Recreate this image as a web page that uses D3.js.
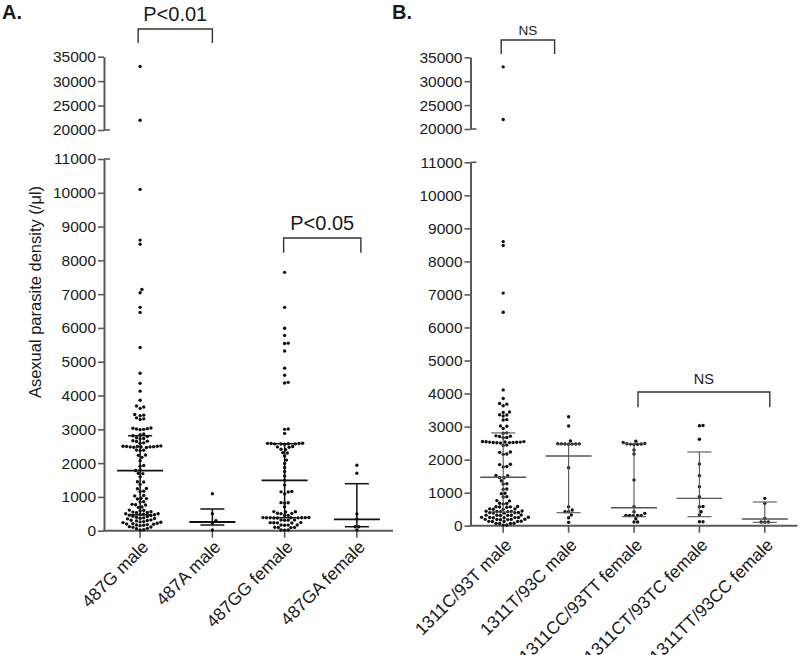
<!DOCTYPE html>
<html>
<head>
<meta charset="utf-8">
<script src="https://cdn.jsdelivr.net/npm/d3@7"></script>
<style>
  body { margin: 0; background: #fff; }
  text { font-family: "Liberation Sans", Arial, sans-serif; fill: #1a1a1a; }
</style>
</head>
<body>
<svg id="chart" width="800" height="655"></svg>
<script>
// categories
var catsA = ["487G male", "487A male", "487GG female", "487GA female"];
var catsB = ["1311C/93T male", "1311T/93C male", "1311CC/93TT female", "1311CT/93TC female", "1311TT/93CC female"];

// tick labels
var ticksLow = [0, 1000, 2000, 3000, 4000, 5000, 6000, 7000, 8000, 9000, 10000, 11000];
var ticksHigh = [20000, 25000, 30000, 35000];

// parasite densities
var g487G_male = [33000, 22000, 10100, 8600, 8480, 7140, 7040, 6610, 6460, 5420, 4660, 4360, 4130, 3860, 3690, 3660, 3620, 3440, 3420, 3400, 3340, 3310, 3290, 3040, 3030, 3020, 3010, 3000, 2990, 2860, 2840, 2810, 2790, 2750, 2730, 2720, 2660, 2650, 2640, 2600, 2590, 2510, 2500, 2500, 2495, 2490, 2485, 2480, 2480, 2475, 2470, 2460, 2390, 2380, 2370, 2240, 2230, 2170, 2070, 1930, 1910, 1800, 1780, 1700, 1690, 1600, 1450, 1440, 1370, 1250, 1240, 1170, 1160, 1040, 1030, 960, 950, 940, 860, 850, 780, 770, 760, 700, 690, 610, 600, 590, 560, 550, 540, 530, 500, 500, 490, 480, 470, 460, 450, 430, 420, 400, 380, 370, 360, 350, 320, 310, 300, 290, 270, 260, 250, 240, 220, 210, 200, 190, 180, 170, 160, 150, 120, 110, 100, 70, 60, 30, 20];
var g487A_male = [1095, 503, 296, 237, 20];
var g487GG_female = [7645, 6610, 5990, 5780, 5550, 5540, 5320, 4810, 4600, 4390, 4370, 3010, 3000, 2880, 2590, 2585, 2580, 2580, 2575, 2570, 2570, 2565, 2560, 2490, 2480, 2470, 2410, 2400, 2310, 2300, 2210, 2090, 1990, 1870, 1750, 1620, 1490, 1350, 1160, 1150, 1145, 1085, 830, 825, 820, 710, 565, 560, 555, 515, 510, 505, 455, 450, 390, 388, 386, 385, 384, 383, 382, 380, 378, 376, 320, 315, 312, 310, 240, 238, 235, 232, 230, 170, 168, 165, 160, 100, 98, 95, 92, 22, 20, 18];
var g487GA_female = [1935, 1698, 494, 346, 118, 115, 20];

var g1311C_93T_male = [33000, 22000, 8600, 8480, 7040, 6460, 4110, 3850, 3700, 3680, 3630, 3440, 3430, 3360, 3350, 3320, 3210, 3200, 3020, 3010, 2940, 2810, 2800, 2720, 2710, 2700, 2670, 2660, 2550, 2545, 2540, 2535, 2530, 2530, 2525, 2520, 2520, 2515, 2510, 2505, 2440, 2430, 2230, 2220, 2170, 2160, 1860, 1850, 1790, 1780, 1520, 1510, 1460, 1450, 1360, 1270, 1260, 1110, 1100, 980, 970, 880, 870, 760, 750, 680, 670, 660, 580, 575, 570, 565, 560, 510, 505, 500, 495, 445, 440, 435, 430, 425, 420, 400, 395, 390, 385, 380, 325, 320, 318, 315, 312, 310, 255, 252, 250, 248, 245, 242, 240, 195, 192, 190, 188, 185, 182, 135, 132, 130, 128, 125, 72, 70, 68, 65, 22, 18];
var g1311T_93C_male = [3300, 3020, 2565, 2480, 2478, 2476, 2474, 2472, 2470, 2468, 1757, 576, 475, 424, 420, 323, 242, 101];
var g1311CC_93TT_female = [2560, 2520, 2490, 2480, 2475, 2470, 2465, 2460, 2290, 2170, 1384, 576, 424, 374, 313, 312, 310, 308, 306, 212, 111, 110];
var g1311CT_93TC_female = [3035, 3025, 2616, 1868, 1515, 1182, 879, 580, 572, 424, 323, 121, 118];
var g1311TT_93CC_female = [828, 677, 222, 111, 110, 108];

// median and interquartile range
var medA = [1775, 257, 1491, 337];
var q1A = [470, 168, 385, 118];
var q3A = [2811, 642, 2574, 1391];
var medB = [1467, 2111, 545, 828, 202];
var q1B = [415, 394, 273, 273, 101];
var q3B = [2809, 2465, 2485, 2232, 717];

var svg = d3.select("#chart");
svg.append("rect").attr("width", 800).attr("height", 655).attr("fill", "#fff");

function drawPanel(p) {
  var g = svg.append("g");
  var x = d3.scaleBand().domain(p.cats).range([p.x0, p.x1]);
  var yLow = d3.scaleLinear().domain([0, 11000]).range([p.y0, p.y11]);
  var yHigh = d3.scaleLinear().domain([20000, 35000]).range([p.y20, p.y35]);
  var yv = function(v) { return v > 15000 ? yHigh(v) : yLow(v); };

  var axisCol = "#5a5a5a";

  // y axes (broken)
  var aL = g.append("g").attr("transform", "translate(" + p.x0 + ",0)")
    .call(d3.axisLeft(yLow).tickValues(ticksLow).tickFormat(d3.format("d"))
      .tickSize(6).tickSizeOuter(0).tickPadding(2));
  var aH = g.append("g").attr("transform", "translate(" + p.x0 + ",0)")
    .call(d3.axisLeft(yHigh).tickValues(ticksHigh).tickFormat(d3.format("d"))
      .tickSize(6).tickSizeOuter(0).tickPadding(2));
  [aL, aH].forEach(function(a) {
    a.select(".domain").attr("stroke", axisCol).attr("stroke-width", 2);
    a.selectAll(".tick line").attr("stroke", axisCol).attr("stroke-width", 1.6);
    a.selectAll(".tick text").style("font-size", "15.5px").attr("fill", "#1a1a1a")
      .style("font-family", "'Liberation Sans', Arial, sans-serif");
  });
  // caps at the break
  [p.y11, p.y20].forEach(function(yy) {
    g.append("line").attr("x1", p.x0).attr("x2", p.x0 + 6).attr("y1", yy).attr("y2", yy)
      .attr("stroke", axisCol).attr("stroke-width", 1.6);
  });

  // x axis
  g.append("line").attr("x1", p.x0 - 1).attr("x2", p.x1).attr("y1", p.y0).attr("y2", p.y0)
    .attr("stroke", axisCol).attr("stroke-width", 2);
  g.selectAll(".xt").data(p.cats).enter().append("line")
    .attr("x1", function(d) { return x(d) + x.bandwidth() / 2; })
    .attr("x2", function(d) { return x(d) + x.bandwidth() / 2; })
    .attr("y1", p.y0).attr("y2", p.y0 + 7)
    .attr("stroke", axisCol).attr("stroke-width", 1.6);
  g.selectAll(".xl").data(p.cats).enter().append("text")
    .attr("transform", function(d) {
      return "translate(" + (x(d) + x.bandwidth() / 2 + 5) + "," + (p.y0 + p.lblDy) + ") rotate(-45)";
    })
    .attr("text-anchor", "end").attr("dy", "0.35em")
    .style("font-size", "17.5px")
    .text(function(d) { return d; });

  // dots, simple swarm
  var r = 1.7, dmin = 3.6;
  p.groups.forEach(function(vals, i) {
    var cx = x(p.cats[i]) + x.bandwidth() / 2;
    var pts = vals.map(function(v) { return { v: v, y: yv(v) }; })
      .sort(function(a, b) { return b.y - a.y; });
    var placed = [];
    pts.forEach(function(pt) {
      for (var k = 0; k < 400; k++) {
        var off = k === 0 ? 0 : (k % 2 ? 1 : -1) * Math.ceil(k / 2) * 0.9;
        var xx = cx + off;
        var ok = placed.every(function(q) {
          return (q.x - xx) * (q.x - xx) + (q.y - pt.y) * (q.y - pt.y) >= dmin * dmin;
        });
        if (ok) { pt.x = xx; placed.push(pt); break; }
      }
    });
    g.selectAll(null).data(placed).enter().append("circle")
      .attr("cx", function(d) { return d.x; })
      .attr("cy", function(d) { return d.y; })
      .attr("r", r).attr("fill", "#111");

    // median + IQR
    var sc = p.statCol, sw = p.statW;
    g.append("line").attr("x1", cx).attr("x2", cx).attr("y1", yLow(p.q1[i])).attr("y2", yLow(p.q3[i]))
      .attr("stroke", sc).attr("stroke-width", sw);
    g.append("line").attr("x1", cx - 23).attr("x2", cx + 23).attr("y1", yLow(p.med[i])).attr("y2", yLow(p.med[i]))
      .attr("stroke", sc).attr("stroke-width", sw + 0.3);
    [p.q1[i], p.q3[i]].forEach(function(q) {
      g.append("line").attr("x1", cx - 12).attr("x2", cx + 12).attr("y1", yLow(q)).attr("y2", yLow(q))
        .attr("stroke", sc).attr("stroke-width", sw);
    });
  });

  // significance brackets
  p.brackets.forEach(function(b) {
    var xa = x(p.cats[b.a]) + x.bandwidth() / 2 + b.da;
    var xb = x(p.cats[b.b]) + x.bandwidth() / 2 + b.db;
    g.append("path")
      .attr("d", "M" + xa + "," + b.bot + "V" + b.top + "H" + xb + "V" + b.bot)
      .attr("fill", "none").attr("stroke", "#333").attr("stroke-width", 1.4);
    g.append("text").attr("x", (xa + xb) / 2).attr("y", b.top - b.gap)
      .attr("text-anchor", "middle").style("font-size", b.size + "px").text(b.label);
  });

  g.append("text").attr("x", p.titleX).attr("y", 19)
    .style("font-size", "20px").style("font-weight", "bold").text(p.title);
}

drawPanel({
  title: "A.", titleX: 2,
  cats: catsA, groups: [g487G_male, g487A_male, g487GG_female, g487GA_female],
  med: medA, q1: q1A, q3: q3A,
  x0: 104, x1: 393, y0: 530.7, y11: 159, y20: 130, y35: 56.7, lblDy: 13,
  statCol: "#111", statW: 1.5,
  brackets: [
    { a: 0, b: 1, da: -2, db: 0, top: 29, bot: 43, label: "P<0.01", size: 20, gap: 8 },
    { a: 2, b: 3, da: -1, db: 4, top: 238, bot: 252.7, label: "P<0.05", size: 20, gap: 8 }
  ]
});

drawPanel({
  title: "B.", titleX: 392,
  cats: catsB, groups: [g1311C_93T_male, g1311T_93C_male, g1311CC_93TT_female, g1311CT_93TC_female, g1311TT_93CC_female],
  med: medB, q1: q1B, q3: q3B,
  x0: 470.5, x1: 797.5, y0: 525.7, y11: 162.3, y20: 129, y35: 57.3, lblDy: 16,
  statCol: "#555", statW: 1.1,
  brackets: [
    { a: 0, b: 1, da: -2, db: -14, top: 40, bot: 54, label: "NS", size: 13.5, gap: 5 },
    { a: 2, b: 4, da: 4, db: 5, top: 392, bot: 407.3, label: "NS", size: 14.5, gap: 8 }
  ]
});

// y axis title
svg.append("text")
  .attr("transform", "translate(41,292) rotate(-90)")
  .attr("text-anchor", "middle")
  .style("font-size", "16.5px")
  .text("Asexual parasite density (/\u03bcl)");
</script>
</body>
</html>
